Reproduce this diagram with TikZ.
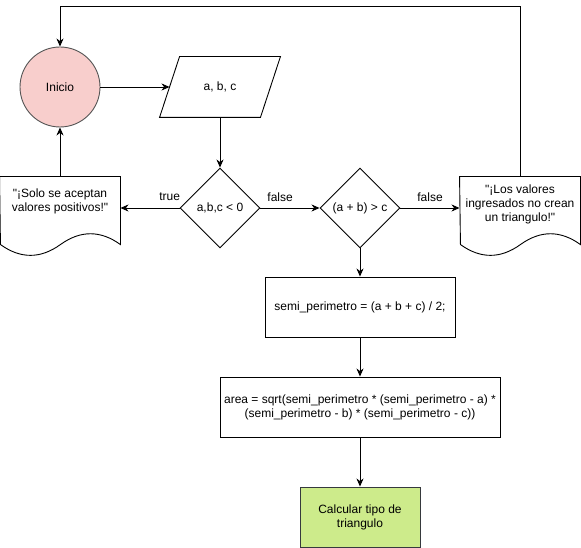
\documentclass[tikz,border=0pt]{standalone}
\usepackage{fontspec}
\setmainfont{Liberation Sans}[Ligatures=TeXOff]
\usetikzlibrary{shapes.geometric,arrows.meta,calc}
\definecolor{pinkfill}{HTML}{F8CECC}
\definecolor{greenfill}{HTML}{CDEB8B}
\definecolor{darkstroke}{HTML}{36393D}
\definecolor{circstroke}{HTML}{555555}
\tikzset{
  base/.style={font=\fontsize{12}{13.8}\selectfont, align=center, inner sep=0pt, line width=0.9pt},
  boxstyle/.style={base, draw=black, rectangle},
  decstyle/.style={base, draw=black, diamond, minimum width=80, minimum height=80},
  docbox/.style={base, rectangle, minimum width=120, minimum height=80},
  arr/.style={line width=0.9pt, -{Stealth[length=8pt,width=7pt,inset=2.5pt]}},
  lbl/.style={font=\fontsize{12}{13.8}\selectfont, inner sep=0pt, fill=white, inner xsep=1pt},
  docline/.style={draw=black, line width=0.9pt, fill=white}
}
\begin{document}
\begin{tikzpicture}[x=1pt,y=-1pt]
\useasboundingbox (0,0) rectangle (581,548);
% start
\node[base, circle, draw=circstroke, fill=pinkfill, minimum size=80] (ini) at (60,87) {Inicio};
% input (parallelogram)
\node[base, rectangle, minimum width=100, minimum height=60] (inp) at (220,87) {};
\path[docline] ($(inp.north west)+(10,0)$) -- ($(inp.north east)+(10,0)$)
  -- ($(inp.south east)+(-10,0)$) -- ($(inp.south west)+(-10,0)$) -- cycle;
\node[base] (inpt) at (inp.center) {a, b, c};
% decisions
\node[decstyle] (d1) at (220,208) {a,b,c {\textless} 0};
\node[decstyle] (d2) at (360,208) {(a + b) {\textgreater} c};
% documents (shape holders)
\node[docbox] (doc1) at (60,217) {};
\node[docbox] (doc2) at (520,217) {};
\path[docline] (doc1.north west) -- (doc1.north east) -- ++(0,68)
  .. controls ++(-20,-14.4) and ++(20,-14.4) .. ++(-60,0)
  .. controls ++(-20,14.4) and ++(20,14.4) .. ++(-60,0) -- cycle;
\path[docline] (doc2.north west) -- (doc2.north east) -- ++(0,68)
  .. controls ++(-20,-14.4) and ++(20,-14.4) .. ++(-60,0)
  .. controls ++(-20,14.4) and ++(20,14.4) .. ++(-60,0) -- cycle;
\node[base] (doc1t) at (60,201.5) {"¡Solo se aceptan\\valores positivos!"};
\node[base] (doc2t) at (520,204.5) {"¡Los valores\\ingresados no crean\\un triangulo!"};
% process boxes
\node[boxstyle, minimum width=190, minimum height=60] (semi) at (360,307) {semi\_perimetro = (a + b + c) / 2;};
\node[boxstyle, minimum width=280, minimum height=60] (area) at (360,407)
  {area = sqrt(semi\_perimetro * (semi\_perimetro - a) *\\(semi\_perimetro - b) * (semi\_perimetro - c))};
\node[boxstyle, draw=darkstroke, fill=greenfill, minimum width=120, minimum height=60] (calc) at (360,517)
  {Calcular tipo de\\triangulo};
% connectors
\draw[arr] (ini.east) -- (inp.west);
\draw[arr] (inp.south) -- (d1.north);
\draw[arr] (d1.west) -- (d1.west -| doc1.east) node[lbl, pos=0.167, yshift=11pt] {true};
\draw[arr] (d1.east) -- (d2.west) node[lbl, pos=0.333, yshift=11pt] {false};
\draw[arr] (d2.east) -- (d2.east -| doc2.west) node[lbl, pos=0.5, yshift=11pt] {false};
\draw[arr] (doc1.north) -- (ini.south);
\draw[arr] (doc2.north) -- ++(0,-170) -| (ini.north);
\draw[arr] (d2.south) -- (semi.north);
\draw[arr] (semi.south) -- (area.north);
\draw[arr] (area.south) -- (calc.north);
\end{tikzpicture}
\end{document}
